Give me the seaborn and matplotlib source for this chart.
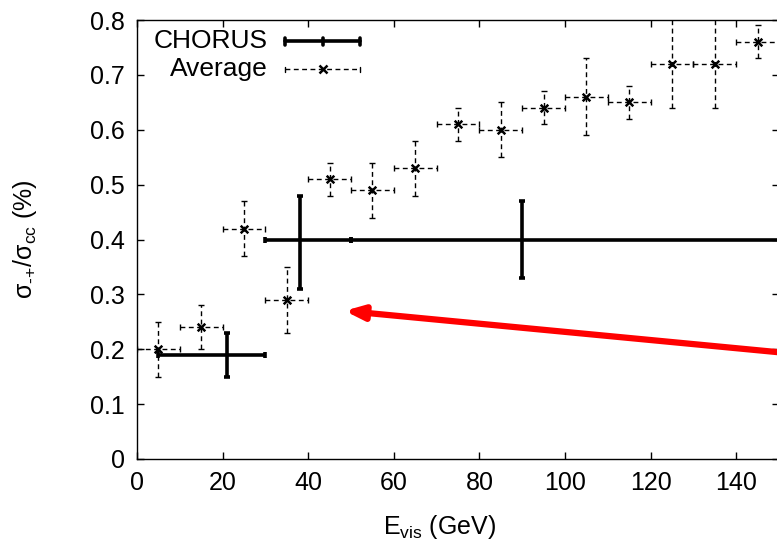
import matplotlib
matplotlib.use("Agg")
import matplotlib.pyplot as plt
import seaborn as sns
import numpy as np
import pandas as pd

# ---- data ----
avg_x = [5, 15, 25, 35, 45, 55, 65, 75, 85, 95, 105, 115, 125, 135, 145]
avg_y = [0.20, 0.24, 0.42, 0.29, 0.51, 0.49, 0.53, 0.61, 0.60, 0.64, 0.66, 0.65, 0.72, 0.72, 0.76]
avg_lo = [0.15, 0.20, 0.37, 0.23, 0.48, 0.44, 0.48, 0.58, 0.55, 0.61, 0.59, 0.62, 0.64, 0.64, 0.73]
avg_hi = [0.25, 0.28, 0.47, 0.35, 0.54, 0.54, 0.58, 0.64, 0.65, 0.67, 0.73, 0.68, 0.81, 0.81, 0.79]
avg_xhw = [5] * 15

ch_x = [21, 38, 90]
ch_y = [0.19, 0.40, 0.40]
ch_lo = [0.15, 0.31, 0.33]
ch_hi = [0.23, 0.48, 0.47]
ch_xlo = [5, 30, 50]
ch_xhi = [30, 50, 160]

arrow_start = (152, 0.193)
arrow_end = (48.5, 0.27)

xticks = [0, 20, 40, 60, 80, 100, 120, 140]
yticks = [0, 0.1, 0.2, 0.3, 0.4, 0.5, 0.6, 0.7, 0.8]
ytick_labels = ["0", "0.1", "0.2", "0.3", "0.4", "0.5", "0.6", "0.7", "0.8"]

# ---- style ----
sns.set_theme(style="ticks")
plt.rcParams["font.family"] = ["Liberation Sans", "DejaVu Sans"]
plt.rcParams["mathtext.fontset"] = "custom"
plt.rcParams["mathtext.rm"] = "Liberation Sans"
plt.rcParams["mathtext.it"] = "Liberation Sans:italic"
plt.rcParams["mathtext.bf"] = "Liberation Sans:bold"
plt.rcParams["text.color"] = "black"
plt.rcParams["axes.labelcolor"] = "black"
plt.rcParams["xtick.color"] = "black"
plt.rcParams["ytick.color"] = "black"

fig = plt.figure(figsize=(7.77, 5.42), dpi=100)
ax = fig.add_axes([137 / 777, (542 - 459) / 542, 642 / 777, 439 / 542])

df = pd.DataFrame({"x": avg_x, "y": avg_y, "lo": avg_lo, "hi": avg_hi, "xhw": avg_xhw})
yerr = np.array([df["y"] - df["lo"], df["hi"] - df["y"]])
eb = ax.errorbar(df["x"], df["y"], xerr=df["xhw"], yerr=yerr, fmt="none",
                 ecolor="black", elinewidth=1.0, capsize=2.5, capthick=1.0, zorder=2)
for lc in eb[2]:
    lc.set_linestyle((0, (3.5, 2.5)))
sns.scatterplot(data=df, x="x", y="y", marker="x", s=30, color="black",
                linewidth=1.8, ax=ax, zorder=3, legend=False)

cdf = pd.DataFrame({"x": ch_x, "y": ch_y, "lo": ch_lo, "hi": ch_hi,
                    "xlo": ch_xlo, "xhi": ch_xhi})
cyerr = np.array([cdf["y"] - cdf["lo"], cdf["hi"] - cdf["y"]])
cxerr = np.array([cdf["x"] - cdf["xlo"], cdf["xhi"] - cdf["x"]])
ax.errorbar(cdf["x"], cdf["y"], xerr=cxerr, yerr=cyerr, fmt="none",
            ecolor="black", elinewidth=2.6, capsize=2.5, capthick=2.6, zorder=4)

ax.annotate("", xy=arrow_end, xytext=arrow_start, xycoords="data",
            annotation_clip=False,
            arrowprops=dict(arrowstyle="-|>,head_length=0.9,head_width=0.35",
                            color="#ff0000", lw=4.5, shrinkA=0, shrinkB=0),
            zorder=5)

ax.set_xlim(0, 150)
ax.set_ylim(0, 0.8)
ax.set_xticks(xticks)
ax.set_yticks(yticks)
ax.set_yticklabels(ytick_labels)
ax.tick_params(direction="in", length=5, width=1, top=True, right=True,
               labelsize=18, pad=9, colors="black")
for s in ax.spines.values():
    s.set_visible(True)
    s.set_linewidth(1)
    s.set_color("black")

ax.set_xlabel(r"E$_{\rm vis}$ (GeV)", fontsize=18)
ax.set_ylabel(r"σ$_{\text{-+}}$/σ$_{\rm cc}$ (%)", fontsize=18)
ax.xaxis.set_label_coords(0.472, -0.122)
ax.yaxis.set_label_coords(-0.152, 0.5)

# legend (gnuplot style: right-justified text, sample on right)
tr = ax.transAxes
ax.text(0.204, 0.952, "CHORUS", transform=tr, ha="right", va="center", fontsize=19)
ax.text(0.204, 0.888, "Average", transform=tr, ha="right", va="center", fontsize=19)
ax.plot([0.2305, 0.347], [0.952, 0.952], transform=tr, color="black", lw=2.6)
for xx in [0.2305, 0.289, 0.347]:
    ax.plot([xx, xx], [0.944, 0.960], transform=tr, color="black", lw=2.6)
ax.plot([0.2305, 0.347], [0.888, 0.888], transform=tr, color="black", lw=1.0,
        linestyle=(0, (3.5, 2.5)))
for xx in [0.2305, 0.347]:
    ax.plot([xx, xx], [0.882, 0.894], transform=tr, color="black", lw=1.0)
ax.plot([0.289], [0.888], transform=tr, marker="x", color="black", ms=6, mew=1.8)

fig.savefig("out.png", dpi=100)
